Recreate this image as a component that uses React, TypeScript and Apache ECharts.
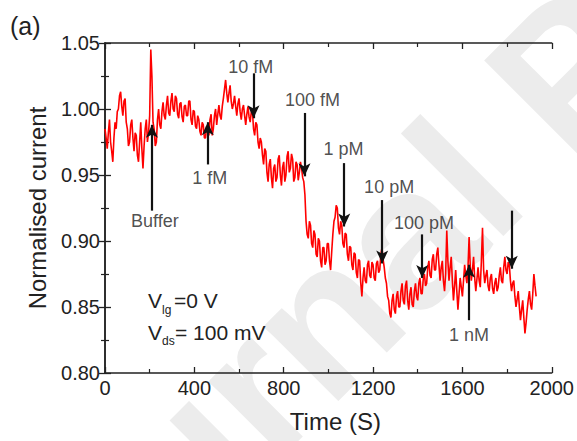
import React, { useEffect, useRef } from 'react';
import * as echarts from 'echarts';

const TIME_STEP = 5; // seconds between samples
const current = [
  0.985, 0.978, 0.970, 0.982, 0.992, 0.975, 0.968, 0.960, 0.978, 0.990,
  0.985, 0.998, 1.000, 1.010, 1.013, 1.002, 0.995, 1.006, 1.008, 0.990,
  0.985, 0.972, 0.975, 0.988, 0.992, 0.978, 0.968, 0.982, 0.980, 0.965,
  0.960, 0.975, 0.990, 0.970, 0.955, 0.972, 0.985, 0.992, 0.975, 0.982,
  0.995, 1.045, 1.025, 0.990, 0.985, 0.972, 0.975, 0.992, 1.000, 0.988,
  0.985, 0.998, 1.005, 0.995, 0.992, 1.003, 1.010, 0.997, 0.995, 1.006,
  1.012, 1.000, 0.998, 1.010, 1.008, 0.996, 0.993, 1.004, 1.005, 0.994,
  0.990, 1.002, 1.003, 0.995, 0.995, 1.006, 1.006, 0.992, 0.988, 0.999,
  0.998, 0.987, 0.985, 0.995, 0.992, 0.983, 0.980, 0.990, 0.988, 0.978,
  0.978, 0.987, 0.985, 0.980, 0.992, 0.996, 0.980, 0.985, 0.995, 1.000,
  0.988, 0.996, 1.003, 0.995, 0.992, 1.002, 1.008, 1.015, 1.022, 1.012,
  1.005, 1.012, 1.018, 1.006, 1.000, 1.004, 1.010, 1.002, 0.995, 1.004,
  1.008, 0.998, 0.992, 1.000, 1.003, 0.995, 0.988, 0.996, 1.002, 0.994,
  0.990, 0.998, 0.998, 0.985, 0.980, 0.990, 0.988, 0.975, 0.970, 0.978,
  0.975, 0.965, 0.958, 0.970, 0.968, 0.952, 0.945, 0.958, 0.962, 0.948,
  0.940, 0.955, 0.958, 0.945, 0.948, 0.962, 0.965, 0.950, 0.942, 0.956,
  0.960, 0.945, 0.950, 0.964, 0.968, 0.952, 0.955, 0.966, 0.962, 0.945,
  0.948, 0.960, 0.958, 0.946, 0.952, 0.960, 0.955, 0.948, 0.945, 0.935,
  0.915, 0.905, 0.902, 0.915, 0.912, 0.898, 0.895, 0.908, 0.905, 0.890,
  0.888, 0.902, 0.900, 0.885, 0.880, 0.895, 0.895, 0.882, 0.885, 0.898,
  0.898, 0.885, 0.878, 0.892, 0.905, 0.915, 0.918, 0.927, 0.925, 0.910,
  0.905, 0.915, 0.912, 0.898, 0.895, 0.906, 0.905, 0.890, 0.885, 0.896,
  0.895, 0.882, 0.878, 0.891, 0.890, 0.876, 0.872, 0.886, 0.885, 0.868,
  0.858, 0.872, 0.880, 0.870, 0.868, 0.882, 0.885, 0.874, 0.872, 0.884,
  0.882, 0.872, 0.870, 0.883, 0.885, 0.876, 0.878, 0.890, 0.895, 0.886,
  0.880, 0.872, 0.868, 0.858, 0.855, 0.845, 0.842, 0.855, 0.860, 0.848,
  0.845, 0.858, 0.862, 0.850, 0.850, 0.862, 0.868, 0.855, 0.852, 0.866,
  0.870, 0.855, 0.848, 0.860, 0.865, 0.852, 0.850, 0.862, 0.868, 0.858,
  0.855, 0.868, 0.872, 0.860, 0.860, 0.872, 0.875, 0.866, 0.868, 0.880,
  0.885, 0.874, 0.872, 0.886, 0.890, 0.878, 0.878, 0.890, 0.895, 0.882,
  0.870, 0.880, 0.885, 0.870, 0.862, 0.875, 0.908, 0.885, 0.870, 0.880,
  0.888, 0.870, 0.855, 0.866, 0.878, 0.862, 0.848, 0.860, 0.872, 0.865,
  0.858, 0.870, 0.882, 0.874, 0.868, 0.880, 0.903, 0.882, 0.870, 0.878,
  0.888, 0.872, 0.862, 0.871, 0.880, 0.870, 0.865, 0.885, 0.910, 0.878,
  0.868, 0.874, 0.878, 0.866, 0.862, 0.872, 0.875, 0.864, 0.860, 0.868,
  0.872, 0.862, 0.865, 0.874, 0.880, 0.870, 0.868, 0.880, 0.888, 0.878,
  0.875, 0.884, 0.882, 0.870, 0.862, 0.868, 0.870, 0.858, 0.850, 0.856,
  0.862, 0.850, 0.840, 0.848, 0.855, 0.842, 0.830, 0.838, 0.848, 0.856,
  0.862, 0.852, 0.848, 0.860, 0.875, 0.866, 0.858,
];

const arrowTimes = [210, 460, 665, 893, 1071, 1241, 1420, 1630, 1821];
const arrowFrom = [0.923, 0.958, 1.027, 0.997, 0.959, 0.931, 0.905, 0.840, 0.923];
const arrowTo = [0.988, 0.990, 0.993, 0.949, 0.911, 0.883, 0.872, 0.882, 0.879];

const labelTexts = ['Buffer', '1 fM', '10 fM', '100 fM', '1 pM', '10 pM', '100 pM', '1 nM'];
const labelTimes = [223, 469, 652, 929, 1068, 1272, 1428, 1630];
const labelValues = [0.915, 0.948, 1.032, 1.007, 0.970, 0.941, 0.914, 0.829];

const FONT = '"Liberation Sans", Arial, Helvetica, sans-serif';
const INK = '#222';

export default function App() {
  const ref = useRef<HTMLDivElement>(null);
  useEffect(() => {
    if (!ref.current) return;
    const chart = echarts.init(ref.current, undefined, { renderer: 'svg' });
    const lineData = current.map((v, i) => [i * TIME_STEP, v]);
    const labelData = labelTexts.map((t, i) => [labelTimes[i], labelValues[i], t]);
    const arrows = arrowTimes.map((t, i) => [
      { coord: [t, arrowFrom[i]], symbol: 'none' },
      { coord: [t, arrowTo[i]], symbol: 'arrow', symbolSize: [9, 13] },
    ]);
    const tickCommon = {
      axisLine: { show: true, lineStyle: { color: INK, width: 1.5 } },
      axisTick: { show: true, inside: true, length: 6, lineStyle: { color: INK, width: 1.3 } },
      minorTick: { show: true, splitNumber: 2, length: 4, lineStyle: { color: INK, width: 1.2 } },
      splitLine: { show: false },
      minorSplitLine: { show: false },
    };
    chart.setOption({
      animation: false,
      grid: { left: 105, top: 43, right: 24, bottom: 68, containLabel: false },
      xAxis: [
        {
          type: 'value', min: 0, max: 2000, interval: 400, position: 'bottom',
          ...tickCommon,
          axisLabel: { fontSize: 20, color: INK, fontFamily: FONT, margin: 5, formatter: (v: number) => String(v) },
          name: 'Time (S)', nameLocation: 'middle', nameGap: 36,
          nameTextStyle: { fontSize: 24, color: INK, fontFamily: FONT, padding: [0, 0, 0, 14] },
        },
        {
          type: 'value', min: 0, max: 2000, interval: 400, position: 'top',
          ...tickCommon,
          axisLabel: { show: false },
        },
      ],
      yAxis: [
        {
          type: 'value', min: 0.8, max: 1.05, interval: 0.05, position: 'left',
          ...tickCommon,
          axisLabel: {
            fontSize: 20, color: INK, fontFamily: FONT, margin: 5,
            formatter: (v: number) => v.toFixed(2),
          },
          name: 'Normalised current', nameLocation: 'middle', nameGap: 56,
          nameTextStyle: { fontSize: 24, color: INK, fontFamily: FONT },
        },
        {
          type: 'value', min: 0.8, max: 1.05, interval: 0.05, position: 'right',
          ...tickCommon,
          axisLabel: { show: false },
        },
      ],
      graphic: [
        {
          type: 'text', x: -27, y: 668, rotation: Math.PI / 4, z: -10, silent: true,
          style: {
            text: 'Journal Pre-proof', font: `bold 200px ${FONT}`, fill: '#ececec',
            align: 'left', verticalAlign: 'middle',
          },
        },
        { type: 'text', x: 10, y: 26, style: { text: '(a)', font: `25px ${FONT}`, fill: INK, align: 'left', verticalAlign: 'middle' } },
        { type: 'text', x: 148, y: 300, style: { text: 'V', font: `21px ${FONT}`, fill: INK, align: 'left', verticalAlign: 'middle' } },
        { type: 'text', x: 162, y: 310, style: { text: 'lg', font: `12px ${FONT}`, fill: INK, align: 'left', verticalAlign: 'middle' } },
        { type: 'text', x: 174, y: 300, style: { text: '=0 V', font: `21px ${FONT}`, fill: INK, align: 'left', verticalAlign: 'middle' } },
        { type: 'text', x: 148, y: 332, style: { text: 'V', font: `21px ${FONT}`, fill: INK, align: 'left', verticalAlign: 'middle' } },
        { type: 'text', x: 162, y: 341, style: { text: 'ds', font: `12px ${FONT}`, fill: INK, align: 'left', verticalAlign: 'middle' } },
        { type: 'text', x: 175, y: 332, style: { text: '= 100 mV', font: `21px ${FONT}`, fill: INK, align: 'left', verticalAlign: 'middle' } },
      ],
      series: [
        {
          type: 'line', data: lineData, showSymbol: false, symbol: 'none',
          lineStyle: { color: '#ff0000', width: 1.6 }, z: 3,
          markLine: {
            silent: true, symbol: ['none', 'arrow'],
            lineStyle: { color: '#111', width: 2.2, type: 'solid' },
            label: { show: false },
            data: arrows,
          },
        },
        {
          type: 'scatter', data: labelData, symbolSize: 0, z: 4, silent: true,
          label: {
            show: true, position: 'inside', fontSize: 18, color: INK, fontFamily: FONT,
            formatter: (p: any) => p.data[2],
          },
        },
      ],
    });
    return () => chart.dispose();
  }, []);
  return <div ref={ref} style={{ width: 577, height: 441, position: 'absolute', left: 0, top: 0 }} />;
}
